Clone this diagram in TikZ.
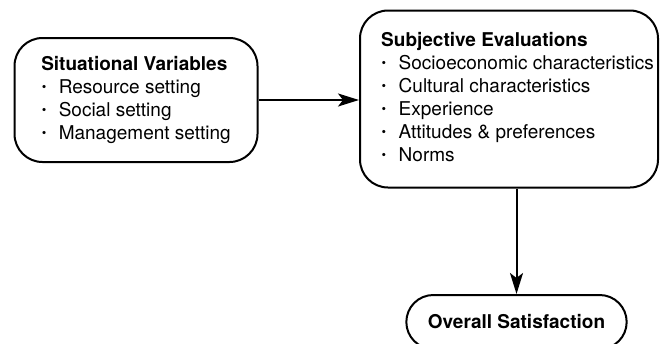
\documentclass[tikz,border=0pt]{standalone}
\usepackage{fontspec}
\setmainfont{TeX Gyre Heros}
\usetikzlibrary{arrows.meta,shapes.misc}

% voce di elenco con puntino
\newcommand{\voce}{\makebox[17.5pt][l]{\hspace{0.5pt}\raisebox{2pt}{\fontsize{13}{13}\selectfont •}}}

\begin{document}
\begin{tikzpicture}[x=1pt,y=-1pt,
    blocco/.style={draw, line width=2pt, rounded corners=28pt, align=left,
        font=\fontsize{19}{23}\selectfont},
    ovale/.style={draw, line width=2pt, rounded rectangle, minimum width=227pt,
        minimum height=54pt, font=\fontsize{19}{23}\selectfont\bfseries},
    freccia/.style={-{Stealth[length=21pt,width=13pt,inset=5pt]}, line width=2pt}]

    % =========================================
    % === Area del disegno (ovale tagliato in basso) ===
    % =========================================
    \clip (0,0) rectangle (660,343);

    % Variabili situazionali (a sinistra)
    \node[blocco, minimum width=243pt, minimum height=124pt] (situ) at (136,100)
        {\textbf{Situational Variables}\\
         \voce Resource setting\\
         \voce Social setting\\
         \voce Management setting};

    % Valutazioni soggettive (a destra), testo spostato verso destra
    \node[blocco, inner xsep=0pt, minimum width=298pt, minimum height=177pt] (eval) at (509,99)
        {\begin{tabular}{@{\hspace{17pt}}l@{}}
         \textbf{Subjective Evaluations}\\
         \voce Socioeconomic characteristics\\
         \voce Cultural characteristics\\
         \voce Experience\\
         \voce Attitudes \& preferences\\
         \voce Norms
         \end{tabular}};

    % Soddisfazione complessiva (in basso)
    \node[ovale] (sat) at (516.5,322) {Overall Satisfaction};

    % Frecce
    \draw[freccia] (situ.east) -- (situ.east -| eval.west);
    \draw[freccia] (eval.south -| sat.north) -- (sat.north);

\end{tikzpicture}
\end{document}
